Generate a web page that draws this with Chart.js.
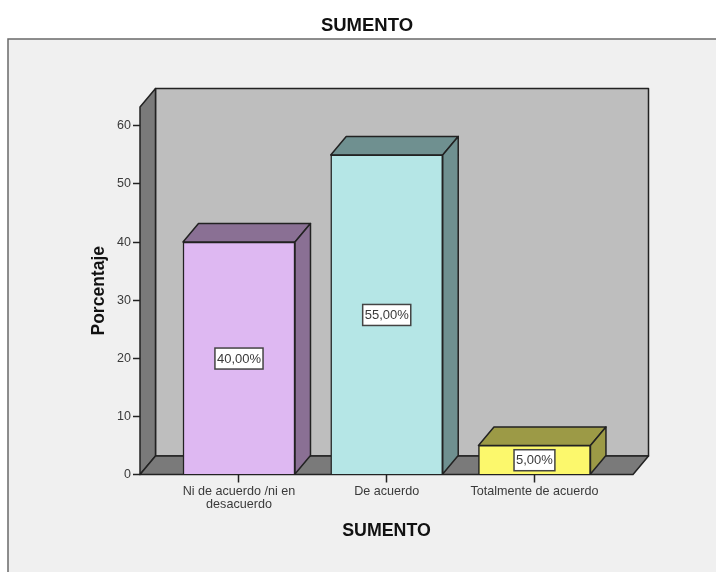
<!DOCTYPE html>
<html>
<head>
<meta charset="utf-8">
<title>SUMENTO</title>
<script src="https://cdn.jsdelivr.net/npm/chart.js@4"></script>
<style>
  html, body { margin: 0; padding: 0; background: #ffffff; }
  canvas { display: block; }
</style>
</head>
<body>
<canvas id="myChart" width="716" height="572"></canvas>
<script>
const categories = [['Ni de acuerdo /ni en', 'desacuerdo'], 'De acuerdo', 'Totalmente de acuerdo'];
const porcentajes = [40, 55, 5];
const frontColors = ['#DEB8F2', '#B5E6E6', '#FCF86C'];
const shadeColors = ['#8A7094', '#6F9090', '#9C9A46'];
const yTicks = [0, 10, 20, 30, 40, 50, 60];

// desplazamiento de la profundidad 3D
const depthX = 15.5;
const depthY = 18.5;
const lineColor = '#222222';
const textColor = '#3a3a3a';
const fontFamily = '"Liberation Sans", Arial, sans-serif';

function face(ctx, pts, fill) {
    ctx.beginPath();
    ctx.moveTo(pts[0][0], pts[0][1]);
    for (let i = 1; i < pts.length; i++) ctx.lineTo(pts[i][0], pts[i][1]);
    ctx.closePath();
    ctx.fillStyle = fill;
    ctx.fill();
    ctx.stroke();
}

// panel de fondo y paredes del grafico
const wallsPlugin = {
    id: 'walls',
    afterLayout(chart) {
        // el titulo se centra sobre el panel, no sobre el area de dibujo
        chart.titleBlock.right = chart.width;
    },
    beforeDraw(chart) {
        const ctx = chart.ctx;
        ctx.save();
        ctx.fillStyle = '#f0f0f0';
        ctx.fillRect(8, 39, chart.width - 8, chart.height - 39);
        ctx.strokeStyle = '#6a6a6a';
        ctx.lineWidth = 1.5;
        ctx.beginPath();
        ctx.moveTo(8, chart.height);
        ctx.lineTo(8, 39);
        ctx.lineTo(chart.width, 39);
        ctx.stroke();
        ctx.restore();
    },
    beforeDatasetsDraw(chart) {
        const ctx = chart.ctx;
        const a = chart.chartArea;
        ctx.save();
        ctx.strokeStyle = lineColor;
        ctx.lineWidth = 1.5;
        ctx.lineJoin = 'round';
        face(ctx, [[a.left + depthX, a.top - depthY], [a.right + depthX, a.top - depthY],
            [a.right + depthX, a.bottom - depthY], [a.left + depthX, a.bottom - depthY]], '#bebebe');
        face(ctx, [[a.left, a.top], [a.left + depthX, a.top - depthY],
            [a.left + depthX, a.bottom - depthY], [a.left, a.bottom]], '#7a7a7a');
        face(ctx, [[a.left, a.bottom], [a.left + depthX, a.bottom - depthY],
            [a.right + depthX, a.bottom - depthY], [a.right, a.bottom]], '#7a7a7a');
        // caras superior y lateral de cada barra
        chart.getDatasetMeta(0).data.forEach((bar, i) => {
            const p = bar.getProps(['x', 'y', 'base', 'width'], true);
            const l = p.x - p.width / 2;
            const r = p.x + p.width / 2;
            face(ctx, [[l, p.y], [l + depthX, p.y - depthY], [r + depthX, p.y - depthY], [r, p.y]], shadeColors[i]);
            face(ctx, [[r, p.y], [r + depthX, p.y - depthY], [r + depthX, p.base - depthY], [r, p.base]], shadeColors[i]);
        });
        ctx.restore();
    },
    afterDatasetsDraw(chart) {
        const ctx = chart.ctx;
        ctx.save();
        ctx.font = '13px ' + fontFamily;
        ctx.textAlign = 'center';
        ctx.textBaseline = 'middle';
        chart.getDatasetMeta(0).data.forEach((bar, i) => {
            const p = bar.getProps(['x', 'y', 'base'], true);
            const cy = (p.y + p.base) / 2 + 0.5;
            const txt = porcentajes[i].toFixed(2).replace('.', ',') + '%';
            const w = ctx.measureText(txt).width + 4;
            ctx.fillStyle = '#ffffff';
            ctx.strokeStyle = '#444444';
            ctx.lineWidth = 1.5;
            ctx.fillRect(p.x - w / 2, cy - 10.5, w, 21);
            ctx.strokeRect(p.x - w / 2, cy - 10.5, w, 21);
            ctx.fillStyle = textColor;
            ctx.fillText(txt, p.x, cy + 0.5);
        });
        ctx.restore();
    }
};

new Chart(document.getElementById('myChart').getContext('2d'), {
    type: 'bar',
    data: {
        datasets: [{
            label: 'Porcentaje',
            data: porcentajes.map((v, i) => ({ x: i, y: v })),
            backgroundColor: frontColors,
            borderColor: lineColor,
            borderWidth: 1.5,
            barThickness: 112
        }]
    },
    plugins: [wallsPlugin],
    options: {
        responsive: false,
        animation: false,
        layout: { padding: { left: 18, right: 83, top: 0, bottom: 0 } },
        plugins: {
            legend: { display: false },
            tooltip: { enabled: false },
            title: {
                display: true,
                text: 'SUMENTO',
                color: '#111111',
                font: { family: fontFamily, size: 18.5, weight: 'bold', lineHeight: 1.2 },
                padding: { top: 15, bottom: 69.8 }
            }
        },
        scales: {
            x: {
                type: 'linear',
                offset: false,
                min: -0.67,
                max: 2.667,
                afterBuildTicks(scale) { scale.ticks = categories.map((c, i) => ({ value: i })); },
                afterFit(scale) { scale.height = 97.5; },
                grid: { offset: false, drawOnChartArea: false, tickLength: 8, tickColor: lineColor, tickWidth: 1.5 },
                border: { display: false },
                ticks: {
                    color: textColor,
                    autoSkip: false,
                    maxRotation: 0,
                    padding: 2,
                    font: { family: fontFamily, size: 12.6, lineHeight: 1.05 },
                    callback(value) { return categories[value]; }
                },
                title: {
                    display: true,
                    text: 'SUMENTO',
                    color: '#111111',
                    font: { family: fontFamily, size: 17.8, weight: 'bold' },
                    padding: { top: 0, bottom: 30 }
                }
            },
            y: {
                min: 0,
                max: 63.25,
                afterBuildTicks(scale) { scale.ticks = yTicks.map(v => ({ value: v })); },
                afterFit(scale) { scale.width = 122; },
                grid: { drawOnChartArea: false, tickLength: 7, tickColor: lineColor, tickWidth: 1.5 },
                border: { display: false },
                ticks: {
                    color: textColor,
                    padding: 2,
                    font: { family: fontFamily, size: 12.5 }
                },
                title: {
                    display: true,
                    text: 'Porcentaje',
                    color: '#111111',
                    font: { family: fontFamily, size: 17.5, weight: 'bold' },
                    padding: { top: 71, bottom: 0 }
                }
            }
        }
    }
});
</script>
</body>
</html>
